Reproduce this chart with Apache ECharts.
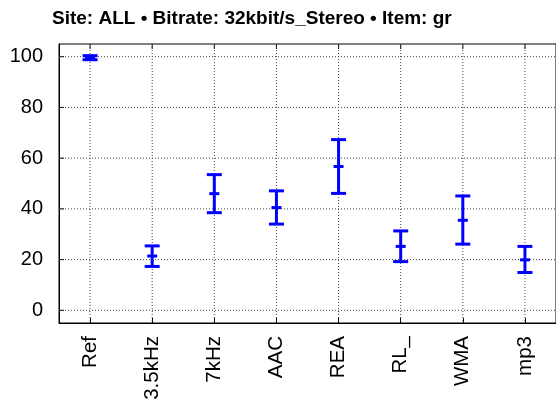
<!DOCTYPE html>
<html>
<head>
<meta charset="utf-8">
<script src="https://cdn.jsdelivr.net/npm/echarts@6/dist/echarts.min.js"></script>
<style>
  html, body { margin: 0; padding: 0; background: #fff; }
  #chart { width: 556px; height: 406px; }
</style>
</head>
<body>
<div id="chart"></div>
<script>
var CATEGORIES = ['Ref', '3.5kHz', '7kHz', 'AAC', 'REA', 'RL_', 'WMA', 'mp3'];
var MEANS = [99.6, 21.4, 46.0, 40.5, 56.7, 25.2, 35.5, 19.9];
var LOWS = [98.8, 17.3, 38.5, 34.0, 46.1, 19.2, 26.1, 14.9];
var HIGHS = [100.4, 25.4, 53.5, 47.1, 67.3, 31.3, 45.1, 25.2];
var Y_TICKS = [0, 20, 40, 60, 80, 100];

var BLUE = '#0000ff';
var FONT = '"Liberation Sans", Arial, sans-serif';

var chart = echarts.init(document.getElementById('chart'), null, { renderer: 'canvas' });

var errData = CATEGORIES.map(function (c, i) {
  return [i, LOWS[i], HIGHS[i], MEANS[i]];
});

function renderErr(params, api) {
  var x = api.value(0);
  var lo = api.coord([x, api.value(1)]);
  var hi = api.coord([x, api.value(2)]);
  var mid = api.coord([x, api.value(3)]);
  var capW = 7.5;
  var meanW = 5;
  var style = { stroke: BLUE, lineWidth: 3 };
  return {
    type: 'group',
    children: [
      { type: 'line', shape: { x1: lo[0], y1: lo[1], x2: hi[0], y2: hi[1] }, style: style },
      { type: 'line', shape: { x1: lo[0] - capW, y1: lo[1], x2: lo[0] + capW, y2: lo[1] }, style: style },
      { type: 'line', shape: { x1: hi[0] - capW, y1: hi[1], x2: hi[0] + capW, y2: hi[1] }, style: style },
      { type: 'line', shape: { x1: mid[0] - meanW, y1: mid[1], x2: mid[0] + meanW, y2: mid[1] }, style: style }
    ]
  };
}

var dotted = { color: '#444', width: 1, type: [1, 2] };

chart.setOption({
  animation: false,
  backgroundColor: '#fff',
  title: {
    text: 'Site: ALL \u2022 Bitrate: 32kbit/s_Stereo \u2022 Item: gr',
    left: 52,
    top: 9,
    padding: 0,
    textStyle: { fontFamily: FONT, fontSize: 19, fontWeight: 'bold', color: '#000' }
  },
  grid: { left: 59, top: 44, width: 500, height: 279, containLabel: false, show: true, borderColor: '#000', borderWidth: 1 },
  xAxis: {
    type: 'category',
    data: CATEGORIES,
    axisLine: { show: true, onZero: false, lineStyle: { color: '#000', width: 1 } },
    axisTick: { show: true, inside: true, length: 5, alignWithLabel: true, lineStyle: { color: '#000' } },
    splitLine: { show: false },
    axisLabel: { rotate: 90, margin: 13, fontFamily: FONT, fontSize: 20.5, color: '#000' }
  },
  yAxis: {
    type: 'value',
    min: -5,
    max: 105,
    interval: 5,
    axisLine: { show: true, lineStyle: { color: '#000', width: 1 } },
    axisTick: { show: false },
    splitLine: { show: false },
    axisLabel: { show: false }
  },
  series: [{
    type: 'custom',
    renderItem: renderErr,
    data: errData,
    z: 10
  }]
});

// grid lines, ticks and y labels, placed with the chart's own scale
var g = [];
var plotTop = chart.convertToPixel({ yAxisIndex: 0 }, 105);
var plotBottom = chart.convertToPixel({ yAxisIndex: 0 }, -5);
var plotLeft = 59, plotRight = 559;
Y_TICKS.forEach(function (v) {
  var y = chart.convertToPixel({ yAxisIndex: 0 }, v);
  g.push({
    type: 'line', z: 1,
    shape: { x1: plotLeft, y1: y, x2: plotRight, y2: y },
    style: { stroke: dotted.color, lineWidth: 1, lineDash: dotted.type }
  });
  g.push({
    type: 'text',
    x: 43, y: y,
    style: { text: String(v), fontFamily: FONT, fontSize: 20, fill: '#000', align: 'right', verticalAlign: 'middle' }
  });
  g.push({
    type: 'line',
    shape: { x1: plotLeft, y1: y, x2: plotLeft + 5, y2: y },
    style: { stroke: '#000', lineWidth: 1 }
  });
});
CATEGORIES.forEach(function (c, i) {
  var x = chart.convertToPixel({ xAxisIndex: 0 }, c);
  g.push({
    type: 'line', z: 1,
    shape: { x1: x, y1: plotTop, x2: x, y2: plotBottom },
    style: { stroke: dotted.color, lineWidth: 1, lineDash: dotted.type }
  });
  g.push({
    type: 'line',
    shape: { x1: x, y1: plotTop, x2: x, y2: plotTop + 5 },
    style: { stroke: '#000', lineWidth: 1 }
  });
});
chart.setOption({ graphic: g });
</script>
</body>
</html>
